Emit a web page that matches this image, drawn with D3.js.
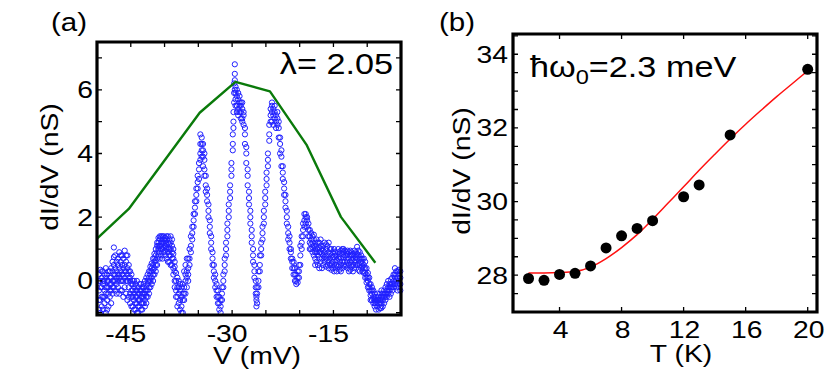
<!DOCTYPE html>
<html><head><meta charset="utf-8">
<script src="https://cdn.jsdelivr.net/npm/d3@7"></script>
<style>body{margin:0;background:#fff}svg{display:block}</style>
</head><body>
<svg id="c" width="830" height="381"></svg>
<script>
// ---------- Panel (a) data ----------
// each entry: [V (mV), dI/dV values (nS) ...]
const scatterCols = [
[-49.7,-0.9,-0.3,0.2,-0.6,0.0],[-49.5,-0.6,0.0,0.35,-1.0,-0.2],[-49.3,-0.2,-0.8,0.1,-0.5,0.3],
[-49.1,0.3,-0.5,-0.1,-0.9,0.0],[-48.9,-0.3,0.0,-0.7,0.2,-0.5],[-48.7,0.1,-0.4,-1.0,0.4,-0.2],
[-48.5,-0.2,-0.6,0.2,-0.9,0.0],[-48.3,0.0,-0.4,-0.8,0.3,-0.2],[-48.1,-0.1,0.3,-0.5,-0.3,0.1],
[-47.9,0.1,-0.3,-0.7,0.4,-0.1],[-47.7,0.0,-0.4,0.3,0.6,-0.2],[-47.5,1.05,0.75,0.2,-0.2,0.5,0.0],
[-47.3,0.0,0.4,-0.3,0.8,0.2],[-47.1,0.3,-0.1,0.6,0.1,-0.4],[-46.9,0.2,0.5,-0.2,0.0,0.7],
[-46.7,0.9,0.1,-0.4,0.4,0.2],[-46.5,0.6,0.0,0.3,-0.3,0.8],[-46.3,0.8,-0.3,0.2,0.5,0.0],
[-46.1,0.4,0.0,-0.5,0.7,0.2],[-45.9,0.1,0.5,-0.2,0.95,0.3],[-45.7,0.3,-0.4,0.6,0.0,0.8],
[-45.5,0.0,0.2,-0.6,0.8,0.4],[-45.3,0.5,-0.2,0.1,0.3,-0.5],[-45.1,-0.4,0.0,0.3,-0.7,0.1],
[-44.9,-0.1,-0.5,0.2,-0.3,-0.8],[-44.7,-0.3,0.0,-0.8,-0.5,-0.1],[-44.5,-0.6,-0.2,-0.4,-0.9,0.0],
[-44.3,-0.5,-0.1,-0.9,-0.3,-0.7],[-44.1,-0.3,-0.7,0.0,-0.5,-1.0],[-43.9,-0.6,-0.2,-1.0,-0.4,-0.8],
[-43.7,-0.4,-0.8,-0.1,-0.6,-0.3],[-43.5,-0.5,-0.3,-0.9,-0.1,-0.7],[-43.3,-0.7,-0.2,-0.5,-0.4,-0.9],
[-43.1,-0.4,-0.1,-0.7,-0.5,-0.2],[-42.9,-0.3,0.0,-0.6,-0.4,-0.8],[-42.7,-0.2,0.1,-0.5,-0.3,-0.7],
[-42.5,0.0,-0.3,0.2,-0.5,-0.1],[-42.3,0.1,-0.2,0.3,-0.4,0.0],[-42.1,0.2,0.0,0.45,-0.2,0.3],
[-41.9,0.3,0.1,0.55,-0.1,0.4],[-41.7,0.5,0.2,0.7,0.0,0.35],[-41.5,0.6,0.4,0.85,0.2,0.7],
[-41.3,0.8,0.5,1.0,0.3,0.65],[-41.1,0.9,1.1,0.7,0.5,1.2],[-40.9,1.2,1.0,1.35,0.8,1.1],
[-40.7,1.1,1.3,0.9,1.4,0.7],[-40.5,0.8,1.1,1.4,1.2,1.0],[-40.3,1.0,1.3,0.7,1.2,1.4],
[-40.1,1.2,0.9,1.4,1.05,1.3],[-39.9,1.1,1.35,0.8,1.25,0.95],[-39.7,1.3,1.0,0.7,1.4,1.15],
[-39.5,1.2,1.4,0.9,1.05,0.6],[-39.3,1.0,1.3,0.6,1.15,0.8],[-39.1,1.2,0.8,1.4,1.0,0.5],
[-38.9,0.9,1.1,0.5,1.3,0.7],[-38.7,0.7,1.0,0.4,0.85,0.2],[-38.5,0.3,0.6,0.0,0.45,-0.2],
[-38.3,0.0,-0.3,0.25,-0.5],[-38.1,-0.2,-0.5,0.1,-0.8],[-37.9,-0.4,0.0,-0.7,-0.2],
[-37.7,-0.3,-0.6,-0.1,-0.9],[-37.5,-0.5,-0.8,-0.2,-1.0],[-37.3,-0.4,-1.0,-0.6,-0.1],
[-37.1,-0.2,-0.6,0.3,-0.4],[-36.9,0.0,-0.4,0.5,0.2],[-36.7,0.3,-0.2,0.7,0.1],[-36.5,0.4,0.0,0.7,0.2],
[-36.3,0.7,1.0,0.5],[-36.1,1.1,1.4,0.9],[-35.9,1.5,1.7,1.3],[-35.7,1.9,2.1,1.7],
[-35.5,2.3,2.5,2.1],[-35.3,2.7,2.9,2.5],[-35.1,3.1,3.3,2.9],[-34.9,3.5,3.2,3.7],
[-34.7,4.0,4.3,3.8,4.6],[-34.5,4.3,4.5,4.1,3.9],[-34.3,4.1,3.9,4.3,3.6],[-34.1,3.8,3.5,3.3,4.0],
[-33.9,3.3,3.0,2.8],[-33.7,2.7,2.5,2.9],[-33.5,2.2,2.0,2.4],[-33.3,1.7,1.5,1.9],
[-33.1,1.2,1.0,1.4],[-32.9,0.7,0.5,0.9],[-32.7,0.3,0.1,0.5],[-32.5,0.0,-0.2,0.2],
[-32.3,-0.3,-0.5,-0.1],[-32.1,-0.5,-0.7,-0.3],[-31.9,-0.7,-0.9,-0.5],[-31.7,-0.8,-1.0,-0.6],
[-31.5,-0.4,-0.6,-0.2],[-31.3,0.0,0.2,-0.2],[-31.1,0.5,0.7,0.3],[-30.9,1.0,1.2,0.8],
[-30.7,1.6,1.8,1.4],[-30.5,2.2,2.4,2.0],[-30.3,2.8,3.0,2.6],[-30.1,3.5,3.7,3.3],
[-29.9,4.3,4.6,4.1],[-29.8,5.0,5.3,4.8],[-29.7,5.6,5.9,6.2],[-29.6,6.5,6.8,6.3,6.0],
[-29.5,5.9,5.7,6.1,5.5],[-29.3,5.8,5.5,6.0,5.3],[-29.1,5.7,5.9,5.4,5.2],[-28.9,5.8,5.5,5.3,5.6],
[-28.7,5.6,5.3,5.5,5.1],[-28.5,5.4,5.1,5.6,5.0],[-28.3,5.2,4.9,5.3],[-28.1,4.6,4.3,4.8],
[-27.9,4.0,3.7,4.2],[-27.7,3.3,3.0,3.5],[-27.5,2.6,2.4,2.8],[-27.3,2.0,1.8,2.2],
[-27.1,1.4,1.2,1.6],[-26.9,0.8,0.6,1.0],[-26.7,0.3,0.1,0.5],[-26.5,-0.2,-0.4,0.0],
[-26.4,-0.6,-0.8,-0.5],[-26.3,-0.4,-0.7,-0.2],[-26.1,0.0,0.3,-0.2],[-25.9,0.5,0.8,0.3],
[-25.7,1.0,1.2,0.8],[-25.5,1.5,1.7,1.3],[-25.3,2.0,2.2,1.8],[-25.1,2.6,2.8,2.4],
[-24.9,3.2,3.4,3.0],[-24.7,3.8,4.0,3.6],[-24.5,4.4,4.6,4.9],[-24.3,5.2,5.0,5.4],
[-24.1,5.3,5.5,5.0,5.6],[-23.9,5.2,5.4,4.9],[-23.7,5.1,5.3,5.5],[-23.5,5.0,5.2,4.8],
[-23.3,4.9,5.1,5.3],[-23.1,4.8,4.5,5.0],[-22.9,4.3,4.5,4.0],[-22.7,3.9,4.1,3.6],
[-22.5,3.4,3.2,3.6],[-22.3,2.9,3.1,2.7],[-22.1,2.5,2.3,2.7],[-21.9,2.0,2.2,1.8],
[-21.7,1.5,1.7,1.3],[-21.5,1.2,1.0,1.4],[-21.3,0.9,0.7,1.0],[-21.1,0.6,0.4,0.7],
[-20.9,0.4,0.2,0.6],[-20.7,0.2,0.0,0.4],[-20.5,0.0,0.2,-0.1],[-20.3,-0.05,0.1,0.3],
[-20.1,0.1,0.3,0.5],[-19.9,0.8,1.1,0.5],[-19.7,1.2,1.4,1.0],[-19.5,1.6,1.8,1.4],
[-19.3,1.9,2.1,1.7],[-19.1,2.0,1.8,2.1],[-18.9,1.9,1.7,2.0],[-18.7,1.6,1.8,1.4],
[-18.5,1.4,1.2,1.6,1.0],[-18.3,1.3,1.0,1.5,1.15],[-18.1,1.2,0.9,1.4,1.05],[-17.9,1.1,0.8,1.3,1.45],
[-17.7,1.0,0.7,1.2,0.5,0.9],[-17.5,0.9,1.1,0.6,1.3],[-17.3,0.8,1.0,0.5,1.2],[-17.1,1.2,0.7,0.9,0.4,1.05],
[-16.9,0.9,0.6,1.1,1.3],[-16.7,1.0,0.7,0.4,0.85],[-16.5,0.8,1.1,0.5,0.95],[-16.3,0.9,0.6,1.2,0.75],
[-16.1,0.7,1.0,0.45,1.15],[-15.9,0.8,0.5,1.1,0.65],[-15.7,0.9,0.6,1.2,0.4],[-15.5,0.7,1.0,0.5,0.85],
[-15.3,0.8,0.55,1.0,0.35],[-15.1,0.6,0.9,0.4,0.75],[-14.9,0.75,0.5,1.0,0.3],[-14.7,0.6,0.9,0.4,0.8],
[-14.5,0.8,0.5,0.3,0.65],[-14.3,0.7,0.45,0.9,1.0],[-14.1,0.6,0.85,0.35,0.75],[-13.9,0.7,0.5,0.95,0.3],
[-13.7,0.6,0.85,0.4,1.0],[-13.5,0.75,0.5,1.0,0.9],[-13.3,0.8,0.6,0.95,0.45],[-13.1,0.7,0.9,0.5,0.8],
[-12.9,0.85,0.6,0.4,0.95],[-12.7,0.7,0.9,0.5,0.3],[-12.5,0.8,0.6,0.35,0.95],[-12.3,0.65,0.9,0.45,0.8],
[-12.1,0.7,0.5,0.85,0.3],[-11.9,0.8,0.6,0.4,0.95],[-11.7,0.65,0.9,0.5,0.75],[-11.5,1.07,0.7,0.5,0.85],
[-11.3,0.8,0.55,0.35,0.95],[-11.1,0.7,0.5,0.9,0.3],[-10.9,0.6,0.8,0.4,0.7],[-10.7,0.7,0.45,0.3,0.55],
[-10.5,0.5,0.7,0.25,0.4],[-10.3,0.4,0.6,0.1,0.25],[-10.1,0.2,0.4,-0.05,0.1],[-9.9,0.0,0.25,-0.2,0.1],
[-9.7,-0.1,0.1,-0.3,-0.2],[-9.5,-0.3,-0.1,-0.45,-0.6],[-9.3,-0.4,-0.2,-0.6,-0.3],[-9.1,-0.5,-0.3,-0.7,-0.55],
[-8.9,-0.6,-0.4,-0.8,-0.7],[-8.7,-0.5,-0.7,-0.9,-0.6],[-8.5,-0.6,-0.8,-0.4,-0.7],[-8.3,-0.7,-0.5,-0.9,-0.6],
[-8.1,-0.6,-0.85,-0.4,-0.7],[-7.9,-0.5,-0.7,-0.3,-0.85],[-7.7,-0.6,-0.4,-0.8,-0.5],[-7.5,-0.5,-0.3,-0.7,-0.4],
[-7.3,-0.4,-0.6,-0.2,-0.5],[-7.1,-0.3,-0.5,-0.1,-0.4],[-6.9,-0.2,-0.4,0.0,-0.3],[-6.7,-0.3,-0.1,-0.5,-0.2],
[-6.5,-0.2,0.05,-0.4,-0.1],[-6.3,-0.1,-0.3,0.1,-0.2],[-6.1,0.0,-0.2,0.2,-0.1],[-5.9,0.4,0.1,-0.1,0.2],
[-5.7,0.2,-0.2,0.0,0.3],[-5.5,0.1,-0.3,0.3,-0.1],[-5.3,0.0,0.2,-0.2,0.35],[-5.1,0.1,-0.1,0.3,-0.3]
];
const envelopeV = [-50, -45.3, -34.8, -29.5, -24.4, -19.0, -13.9, -8.8];
const envelopeG = [1.33, 2.26, 5.28, 6.25, 5.95, 4.28, 2.01, 0.57];
const vTicks = [-50,-45,-40,-35,-30,-25,-20,-15,-10,-5];
const vLabels = [-45,-30,-15];
const gTicksA = [-1,0,1,2,3,4,5,6,7];
const gLabelsA = [0,2,4,6];
const lambdaText = "λ= 2.05";

// ---------- Panel (b) data ----------
const dotsT = [2,3,4,5,6,7,8,9,10,12,13,15,20];
const dotsG = [27.91,27.86,28.02,28.05,28.25,28.74,29.07,29.27,29.48,30.13,30.45,31.81,33.59];
const fitT = [2,3,4,5,6,7,8,9,10,11,12,13,14,15,16,17,18,19,20];
const fitG = [28.06,28.06,28.07,28.10,28.22,28.45,28.75,29.10,29.52,29.96,30.40,30.85,31.28,31.70,32.10,32.48,32.85,33.20,33.55];
const tTicks = [4,8,12,16,20];
const gTicksB = [27,27.5,28,28.5,29,29.5,30,30.5,31,31.5,32,32.5,33,33.5,34,34.5];
const gLabelsB = [28,30,32,34];

// ---------- drawing ----------
const FONT = "'Liberation Sans', Arial, Helvetica, sans-serif";
const SX = 1.18;
const svg = d3.select("#c");

const xA = d3.scaleLinear().domain([-50, -5]).range([97, 401]);
const yA = d3.scaleLinear().domain([-1.07, 7.5]).range([315, 42]);
const xB = d3.scaleLinear().domain([1, 20.6]).range([513, 817]);
const yB = d3.scaleLinear().domain([27, 34.55]).range([312, 34]);

function txt(g, x, y, s, size, anchor, rot) {
  return g.append("text")
    .attr("transform", "translate(" + x + "," + y + ")" + (rot ? " rotate(" + rot + ")" : "") + " scale(" + SX + ",1)")
    .attr("font-family", FONT).attr("font-size", size).attr("fill", "#000")
    .attr("text-anchor", anchor || "start").text(s);
}

// frame + mirrored inward ticks, drawn as filled shapes positioned by the scales
function frame(x, y, xt, yt) {
  const xr = x.range(), yr = y.range();
  const left = xr[0], right = xr[1], bottom = yr[0], top = yr[1];
  const L = 5, tw = 1.3, fw = 3.2, h = fw / 2;
  const p = d3.path();
  xt.forEach(v => {
    const px = x(v) - tw / 2;
    p.rect(px, bottom - L, tw, L);
    p.rect(px, top, tw, L);
  });
  yt.forEach(v => {
    const py = y(v) - tw / 2;
    p.rect(left, py, L, tw);
    p.rect(right - L, py, L, tw);
  });
  svg.append("path").attr("d", p.toString()).attr("fill", "#000").attr("stroke", "none");
  const b = d3.path();
  b.rect(left - h, top - h, right - left + fw, bottom - top + fw);
  b.rect(left + h, top + h, right - left - fw, bottom - top - fw);
  svg.append("path").attr("d", b.toString()).attr("fill", "#000")
    .attr("fill-rule", "evenodd").attr("stroke", "none");
}

// Panel (a) marks
const pts = [];
scatterCols.forEach(c => { for (let i = 1; i < c.length; i++) pts.push([c[0], c[i]]); });
svg.append("g").selectAll("circle").data(pts).join("circle")
  .attr("cx", d => xA(d[0])).attr("cy", d => yA(d[1])).attr("r", 2.6)
  .attr("fill", "none").attr("stroke", "#2020ff").attr("stroke-width", 1);
const lnA = d3.line().x((d, i) => xA(envelopeV[i])).y(d => yA(d));
svg.append("path").attr("d", lnA(envelopeG)).attr("fill", "none")
  .attr("stroke", "#0a7a0a").attr("stroke-width", 2.4).attr("stroke-linejoin", "round");

// Panel (b) marks
const lnB = d3.line().x((d, i) => xB(fitT[i])).y(d => yB(d)).curve(d3.curveMonotoneX);
svg.append("path").attr("d", lnB(fitG)).attr("fill", "none")
  .attr("stroke", "#ff1010").attr("stroke-width", 1.5);
svg.append("g").selectAll("circle").data(dotsT).join("circle")
  .attr("cx", d => xB(d)).attr("cy", (d, i) => yB(dotsG[i])).attr("r", 5.5).attr("fill", "#000");

// Frames
frame(xA, yA, vTicks, gTicksA);
frame(xB, yB, tTicks, gTicksB);

// Texts
const tg = svg.append("g");
vLabels.forEach(v => txt(tg, xA(v) - 5, 342, String(v), 24, "middle"));
gLabelsA.forEach(v => txt(tg, 93, yA(v) + 8.5, String(v), 24, "end"));
txt(tg, 257, 364, "V (mV)", 24, "middle");
txt(tg, 58, 167, "dI/dV (nS)", 24, "middle", -90);
txt(tg, 393, 74, lambdaText, 29, "end");
txt(tg, 51, 31, "(a)", 25, "start");

tTicks.forEach(v => txt(tg, xB(v) + 1, 338, String(v), 24, "middle"));
gLabelsB.forEach(v => txt(tg, 508, yB(v) + 8.5, String(v), 24, "end"));
txt(tg, 681, 362, "T (K)", 24, "middle");
txt(tg, 470, 171, "dI/dV (nS)", 24, "middle", -90);
const hw = txt(tg, 530, 77, "", 29, "start");
hw.append("tspan").text("ħω");
hw.append("tspan").attr("font-size", 20).attr("dy", 7).text("0");
hw.append("tspan").attr("dy", -7).text("=2.3 meV");
txt(tg, 439, 31, "(b)", 25, "start");
</script>
</body></html>
